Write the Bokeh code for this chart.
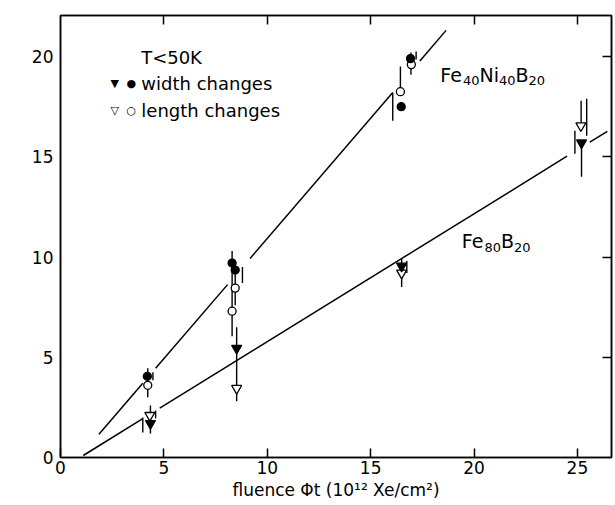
import math
from bokeh.plotting import figure
from bokeh.models import LinearAxis, FixedTicker, Label
from bokeh.embed import file_html
from bokeh.resources import INLINE

# ---------------- data ----------------
# Fe40Ni40B20 (circles)
ni_x_width = [4.2, 8.3, 8.45, 16.48, 16.93]
ni_y_width = [4.05, 9.7, 9.35, 17.5, 19.9]
ni_x_length = [4.22, 8.3, 8.45, 16.44, 16.97]
ni_y_length = [3.6, 7.3, 8.45, 18.25, 19.6]

# Fe80B20 (triangles)
fe_x_width = [4.35, 8.52, 16.5, 25.2]
fe_y_width = [1.7, 5.45, 9.55, 15.7]
fe_x_length = [4.32, 8.52, 16.5, 25.17]
fe_y_length = [2.1, 3.45, 9.2, 16.55]

# vertical error bars
bar_x = [4.22, 4.35, 8.3, 8.45, 8.52, 16.44, 16.07, 16.95, 16.5, 25.2, 25.18]
bar_lo = [3.0, 1.2, 6.05, 7.6, 2.8, 18.25, 16.8, 19.1, 8.5, 14.0, 16.55]
bar_hi = [4.45, 2.6, 10.3, 9.4, 6.5, 19.5, 18.2, 20.2, 9.9, 15.7, 17.8]

# short offset bars (hooks) next to the points
hook_x = [4.47, 3.98, 4.6, 8.8, 17.2, 16.75, 24.88, 25.45]
hook_lo = [3.85, 1.25, 1.95, 8.7, 19.85, 9.2, 15.15, 16.05]
hook_hi = [4.25, 2.0, 2.35, 9.5, 20.25, 9.8, 16.3, 17.9]

# fitted straight lines (broken around the points)
ni_fit_x0, ni_fit_y0, ni_slope = 1.86, 1.16, 1.2
ni_seg_start = [1.86, 4.6, 9.17, 17.38]
ni_seg_end = [3.98, 8.08, 16.07, 18.65]
fe_fit_x0, fe_fit_y0, fe_slope = 1.1, 0.1, 0.638
fe_seg_start = [1.1, 4.8, 25.6]
fe_seg_end = [3.98, 24.5, 26.45]

x_ticks = [0, 5, 10, 15, 20, 25]
y_ticks = [0, 5, 10, 15, 20]
x_range = (0, 26.65)
y_range = (0, 22.05)

FONT = "DejaVu Sans"

p = figure(width=615, height=505, x_range=x_range, y_range=y_range,
           output_backend="svg", toolbar_location=None,
           min_border_left=60, min_border_right=4, min_border_top=15,
           min_border_bottom=48)
p.grid.visible = False
p.outline_line_color = "black"
p.outline_line_width = 1.5
p.background_fill_color = "white"
p.border_fill_color = "white"

# bottom axis
p.xaxis.ticker = FixedTicker(ticks=x_ticks)
p.xaxis.major_tick_in = 9
p.xaxis.major_tick_out = 0
p.xaxis.minor_tick_in = 0
p.xaxis.minor_tick_out = 0
p.xaxis.major_label_standoff = 3
p.xaxis.major_label_text_font = FONT
p.xaxis.major_label_text_font_size = "17px"
p.xaxis.major_label_text_color = "black"
p.xaxis.axis_line_width = 1.5
p.xaxis.major_tick_line_width = 1.5
p.xaxis.axis_label = "fluence \u03a6t (10\u00b9\u00b2 Xe/cm\u00b2)"
p.xaxis.axis_label_text_font = FONT
p.xaxis.axis_label_text_font_size = "17px"
p.xaxis.axis_label_text_font_style = "normal"
p.xaxis.axis_label_standoff = 3
p.xaxis.axis_label_text_color = "black"

# left axis
p.yaxis.ticker = FixedTicker(ticks=y_ticks)
p.yaxis.major_tick_in = 0
p.yaxis.major_tick_out = 0
p.yaxis.minor_tick_in = 0
p.yaxis.minor_tick_out = 0
p.yaxis.major_label_standoff = 7
p.yaxis.major_label_text_font = FONT
p.yaxis.major_label_text_font_size = "17px"
p.yaxis.major_label_text_color = "black"
p.yaxis.axis_line_width = 1.5

# top and right axes (ticks only, no labels)
top = LinearAxis(ticker=FixedTicker(ticks=x_ticks[1:]), major_tick_in=9, major_tick_out=0,
                 minor_tick_in=0, minor_tick_out=0,
                 major_label_overrides={t: "" for t in x_ticks[1:]},
                 major_label_text_font_size="1px",
                 major_label_standoff=0, axis_line_width=1.5, major_tick_line_width=1.5)
right = LinearAxis(ticker=FixedTicker(ticks=y_ticks[1:]), major_tick_in=9, major_tick_out=0,
                   minor_tick_in=0, minor_tick_out=0,
                   major_label_overrides={t: "" for t in y_ticks[1:]},
                   major_label_text_font_size="1px",
                   major_label_standoff=0, axis_line_width=1.5, major_tick_line_width=1.5)
p.add_layout(top, "above")
p.add_layout(right, "right")

# fitted lines
ni_y_start = [ni_fit_y0 + ni_slope * (x - ni_fit_x0) for x in ni_seg_start]
ni_y_end = [ni_fit_y0 + ni_slope * (x - ni_fit_x0) for x in ni_seg_end]
fe_y_start = [fe_fit_y0 + fe_slope * (x - fe_fit_x0) for x in fe_seg_start]
fe_y_end = [fe_fit_y0 + fe_slope * (x - fe_fit_x0) for x in fe_seg_end]
p.segment(x0=ni_seg_start, y0=ni_y_start, x1=ni_seg_end, y1=ni_y_end,
          line_color="black", line_width=1.5)
p.segment(x0=fe_seg_start, y0=fe_y_start, x1=fe_seg_end, y1=fe_y_end,
          line_color="black", line_width=1.5)

# error bars and hooks
p.segment(x0=bar_x, y0=bar_lo, x1=bar_x, y1=bar_hi, line_color="black", line_width=1.4)
p.segment(x0=hook_x, y0=hook_lo, x1=hook_x, y1=hook_hi, line_color="black", line_width=1.4)

# markers
p.scatter(ni_x_length, ni_y_length, marker="circle", size=8, fill_color="white",
          line_color="black", line_width=1.3)
p.scatter(ni_x_width, ni_y_width, marker="circle", size=8, fill_color="black",
          line_color="black", line_width=1.3)
p.scatter(fe_x_length, fe_y_length, marker="inverted_triangle", size=10, fill_color="white",
          line_color="black", line_width=1.3)
p.scatter(fe_x_width, fe_y_width, marker="inverted_triangle", size=10, fill_color="black",
          line_color="black", line_width=1.3)


def add_text(x, y, text, size, align="left", angle=0.0, x_offset=0, y_offset=0):
    p.add_layout(Label(x=x, y=y, text=text, text_font=FONT, text_font_size=size,
                       text_color="black", text_align=align, text_baseline="middle",
                       angle=angle, x_offset=x_offset, y_offset=y_offset))


# advance widths of DejaVu Sans glyphs (fraction of em) for placing subscripts
ADV = {"F": 0.575, "e": 0.615, "N": 0.748, "i": 0.278, "B": 0.686,
       "0": 0.636, "2": 0.636, "4": 0.636, "8": 0.636}


def add_formula(x, y, parts, big=19, small=13):
    """parts: list of (text, is_subscript)"""
    off = 0.0
    for txt, sub in parts:
        size = small if sub else big
        add_text(x, y, txt, f"{size}px", x_offset=off, y_offset=-6 if sub else 0)
        off += sum(ADV.get(c, 0.6) for c in txt) * size


# legend-like texts
add_text(3.9, 19.93, "T<50K", "18px")
add_text(2.62, 18.64, "\u25bc", "11px", align="center")
add_text(3.43, 18.64, "\u25cf", "11px", align="center")
add_text(3.91, 18.64, "width changes", "18px")
add_text(2.62, 17.31, "\u25bd", "11px", align="center")
add_text(3.43, 17.31, "\u25cb", "11px", align="center")
add_text(3.91, 17.31, "length changes", "18px")

# alloy labels
add_formula(18.37, 19.1, [("Fe", False), ("40", True), ("Ni", False), ("40", True),
                          ("B", False), ("20", True)])
add_formula(19.41, 10.8, [("Fe", False), ("80", True), ("B", False), ("20", True)])

# y axis label
add_text(-1.95, 12.5, "dimensional changes (%)", "16px", align="center", angle=math.pi / 2)

open("out.html", "w").write(file_html(p, INLINE))
